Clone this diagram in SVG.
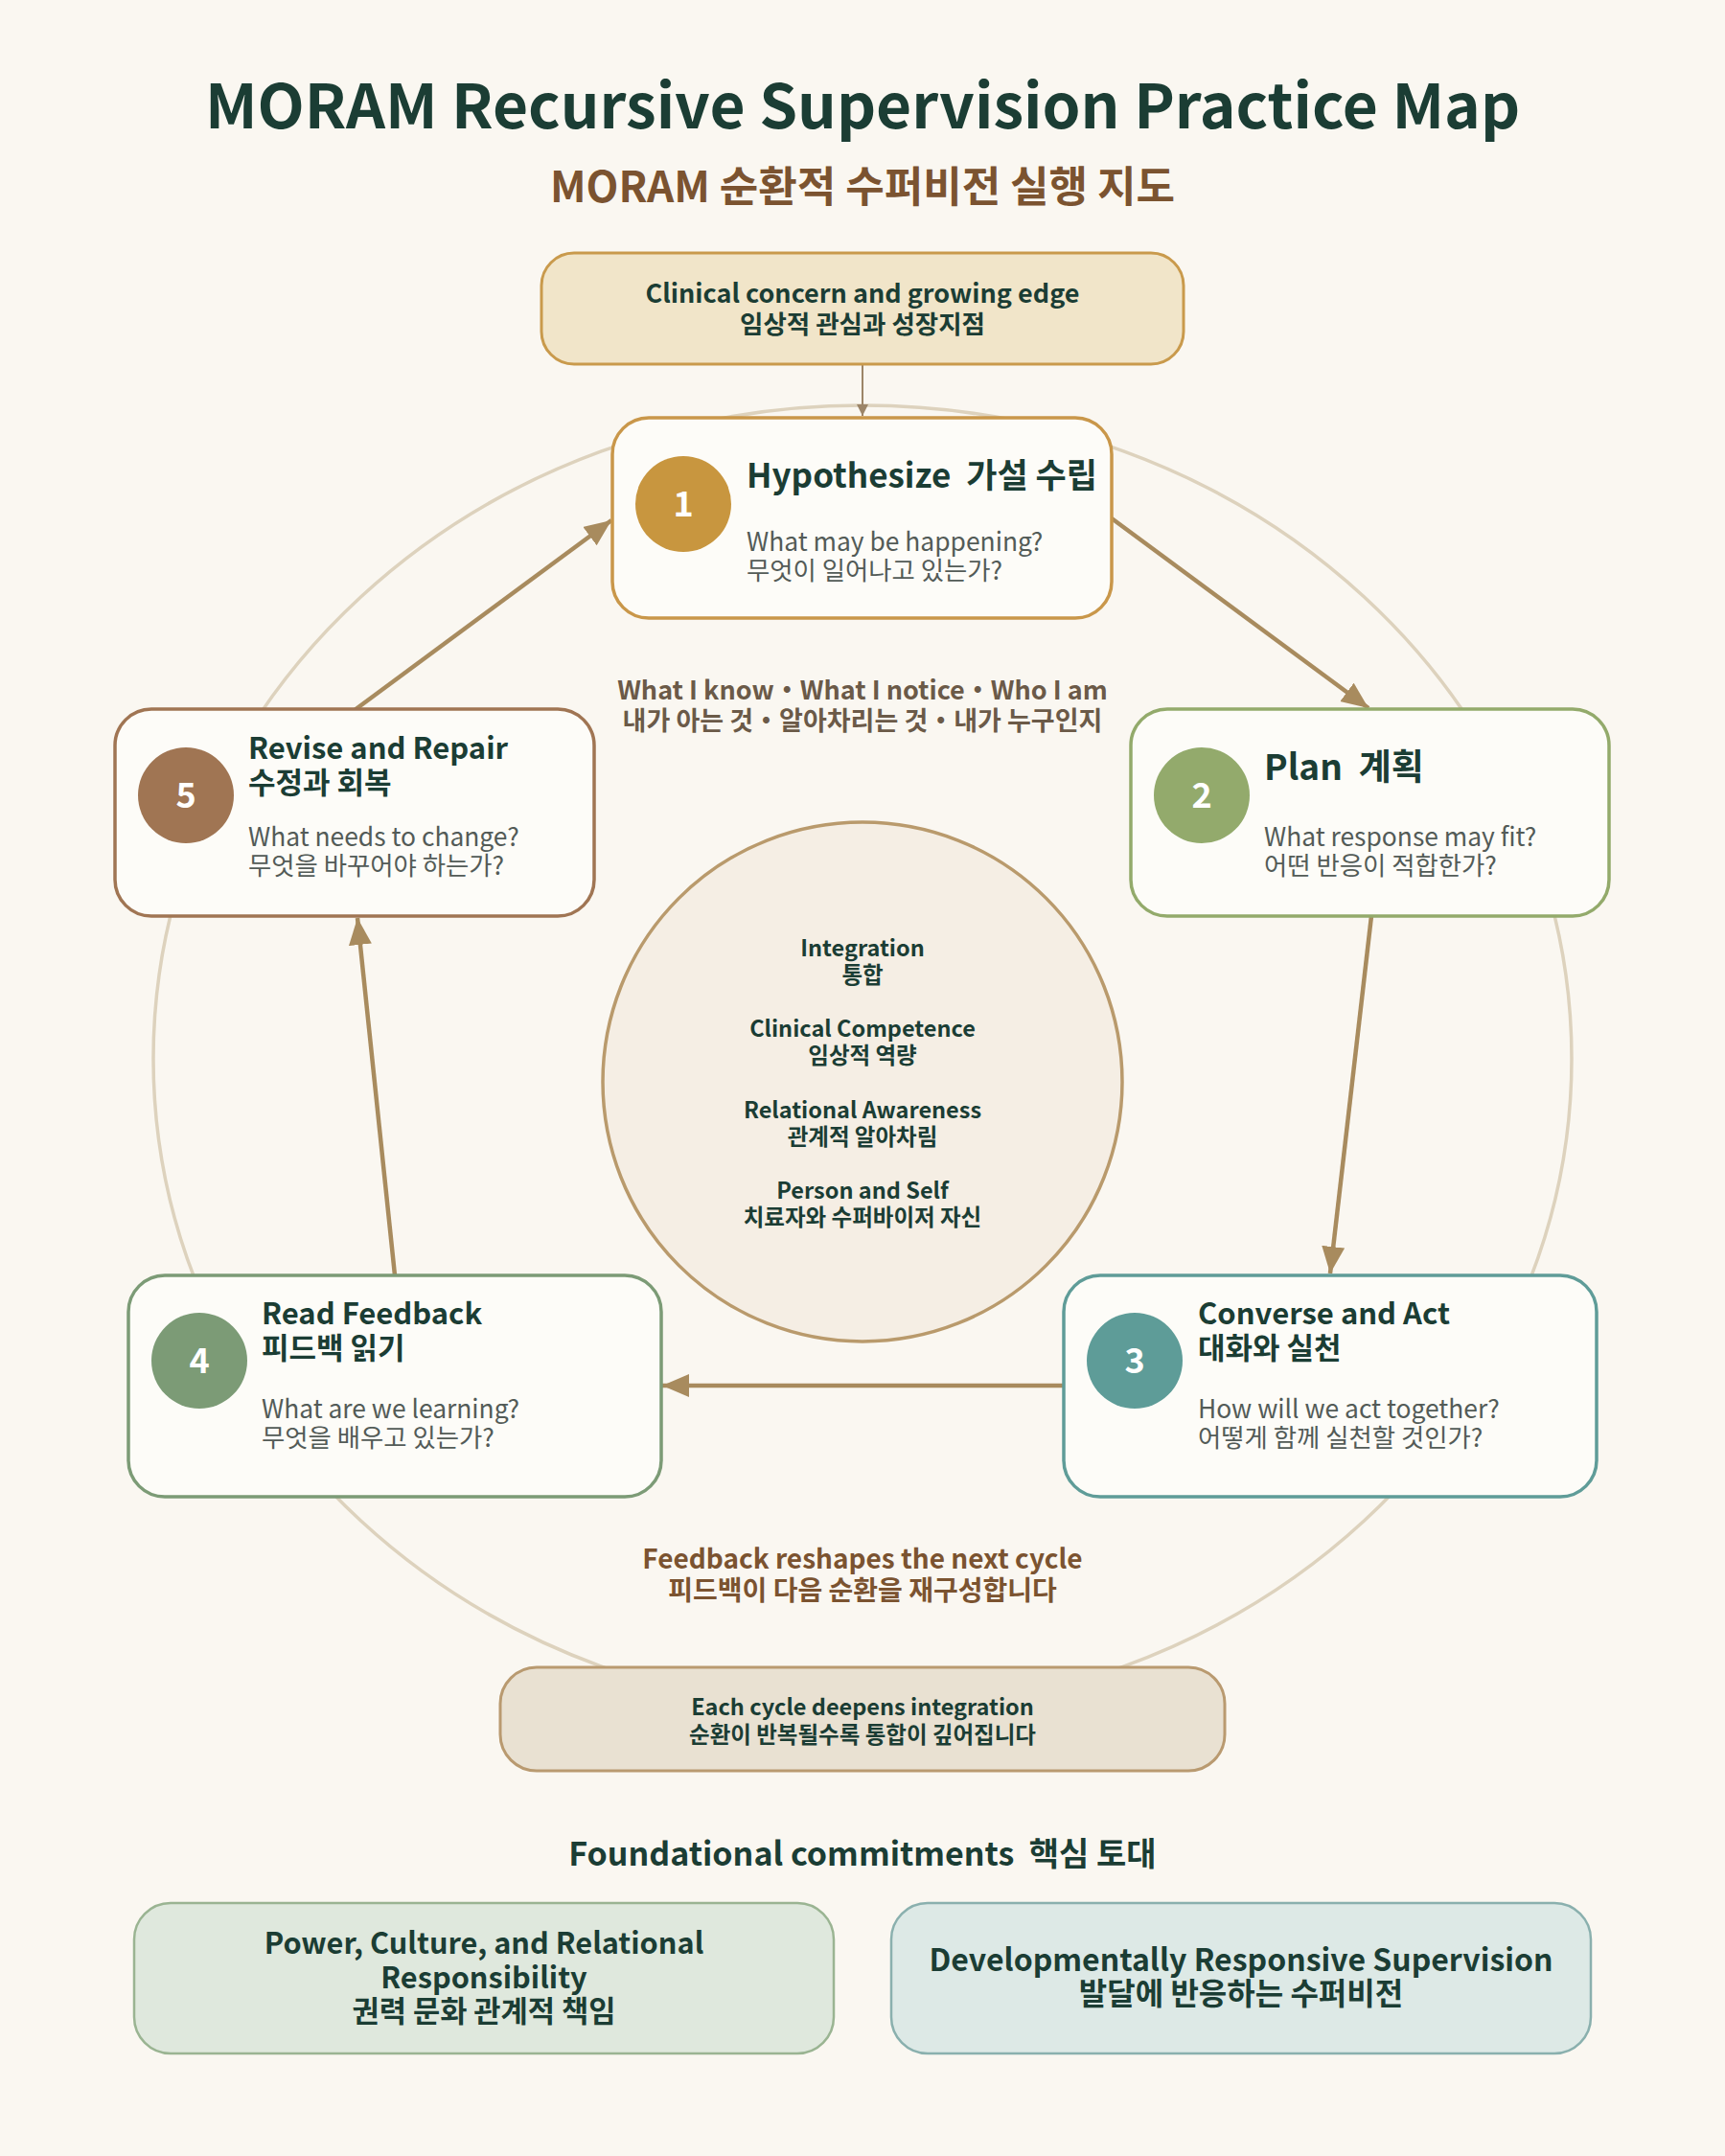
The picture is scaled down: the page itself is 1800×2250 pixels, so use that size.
<svg xmlns="http://www.w3.org/2000/svg" width="1800" height="2250" viewBox="0 0 1800 2250">
<defs>
<style>
text{font-family:"Noto Sans CJK KR","Noto Sans",sans-serif;}
.b{font-weight:700;}
.dk{fill:#1b3d34;}
.sub{fill:#535b57;font-size:26.4px;}
.ttl{font-size:31px;font-weight:700;fill:#1b3d34;}
.num{font-size:36px;font-weight:700;fill:#ffffff;}
.node{fill:#fdfcf8;stroke-width:3.5;}
.ctr{font-size:23.5px;font-weight:700;fill:#1b3d34;}
.arr{stroke:#a88b5e;stroke-width:4.5;fill:none;}
</style>
<marker id="ah" markerUnits="userSpaceOnUse" markerWidth="30" markerHeight="26" refX="28" refY="12" orient="auto">
<path d="M0,0 L28,12 L0,24 Z" fill="#a88b5e"/>
</marker>
<marker id="ahs" markerUnits="userSpaceOnUse" markerWidth="14" markerHeight="14" refX="12" refY="6" orient="auto">
<path d="M0,0 L12,6 L0,12 Z" fill="#9c8568"/>
</marker>
</defs>
<rect x="0" y="0" width="1800" height="2250" fill="#faf7f1"/>

<text x="900" y="134" text-anchor="middle" class="b dk" font-size="64">MORAM Recursive Supervision Practice Map</text>
<text x="900" y="211" text-anchor="middle" class="b" font-size="44" fill="#7b5330">MORAM 순환적 수퍼비전 실행 지도</text>

<ellipse id="ring" cx="900" cy="1105" rx="740" ry="682" fill="none" stroke="#ddd2bd" stroke-width="3.5"/>

<g id="connectors">
<line x1="900" y1="380" x2="900" y2="434" stroke="#9c8568" stroke-width="2" marker-end="url(#ahs)"/>
<line class="arr" x1="1160" y1="541" x2="1428" y2="739" marker-end="url(#ah)"/>
<line class="arr" x1="1431" y1="956" x2="1388" y2="1329" marker-end="url(#ah)"/>
<line class="arr" x1="1110" y1="1446" x2="691" y2="1446" marker-end="url(#ah)"/>
<line class="arr" x1="412" y1="1331" x2="373" y2="958" marker-end="url(#ah)"/>
<line class="arr" x1="370" y1="741" x2="638" y2="543" marker-end="url(#ah)"/>
</g>

<g id="source">
<rect x="565" y="264" width="670" height="116" rx="34" fill="#f1e5c9" stroke="#c99a4c" stroke-width="3"/>
<text x="900" y="316" text-anchor="middle" class="b dk" font-size="27">Clinical concern and growing edge</text>
<text x="900" y="348" text-anchor="middle" class="b dk" font-size="26.5">임상적 관심과 성장지점</text>
</g>

<g id="node1">
<rect class="node" x="639" y="436" width="521" height="209" rx="38" stroke="#c9974a"/>
<circle cx="713" cy="526" r="50" fill="#c8963f"/>
<text x="713" y="539" text-anchor="middle" class="num">1</text>
<text x="779" y="509" class="ttl" style="font-size:35px" xml:space="preserve">Hypothesize  가설 수립</text>
<text x="779" y="575" class="sub">What may be happening?</text>
<text x="779" y="605" class="sub">무엇이 일어나고 있는가?</text>
</g>

<g id="node2">
<rect class="node" x="1180" y="740" width="499" height="216" rx="38" stroke="#93aa6b"/>
<circle cx="1254" cy="830" r="50" fill="#93aa6c"/>
<text x="1254" y="843" text-anchor="middle" class="num">2</text>
<text x="1319" y="814" class="ttl" style="font-size:37px" xml:space="preserve">Plan  계획</text>
<text x="1319" y="883" class="sub">What response may fit?</text>
<text x="1319" y="913" class="sub">어떤 반응이 적합한가?</text>
</g>

<g id="node3">
<rect class="node" x="1110" y="1331" width="556" height="231" rx="38" stroke="#5f9c98"/>
<circle cx="1184" cy="1420" r="50" fill="#5e9c98"/>
<text x="1184" y="1433" text-anchor="middle" class="num">3</text>
<text x="1250" y="1382" class="ttl">Converse and Act</text>
<text x="1250" y="1418" class="ttl">대화와 실천</text>
<text x="1250" y="1480" class="sub">How will we act together?</text>
<text x="1250" y="1510" class="sub">어떻게 함께 실천할 것인가?</text>
</g>

<g id="node4">
<rect class="node" x="134" y="1331" width="556" height="231" rx="38" stroke="#7c9b76"/>
<circle cx="208" cy="1420" r="50" fill="#7c9b76"/>
<text x="208" y="1433" text-anchor="middle" class="num">4</text>
<text x="273" y="1382" class="ttl">Read Feedback</text>
<text x="273" y="1418" class="ttl">피드백 읽기</text>
<text x="273" y="1480" class="sub">What are we learning?</text>
<text x="273" y="1510" class="sub">무엇을 배우고 있는가?</text>
</g>

<g id="node5">
<rect class="node" x="120" y="740" width="500" height="216" rx="38" stroke="#a07553"/>
<circle cx="194" cy="830" r="50" fill="#a07553"/>
<text x="194" y="843" text-anchor="middle" class="num">5</text>
<text x="259" y="792" class="ttl">Revise and Repair</text>
<text x="259" y="828" class="ttl">수정과 회복</text>
<text x="259" y="883" class="sub">What needs to change?</text>
<text x="259" y="913" class="sub">무엇을 바꾸어야 하는가?</text>
</g>

<g id="lens">
<text x="900" y="730" text-anchor="middle" class="b" font-size="27" fill="#6b5a48">What I know・What I notice・Who I am</text>
<text x="900" y="762" text-anchor="middle" class="b" font-size="27" fill="#6b5a48">내가 아는 것・알아차리는 것・내가 누구인지</text>
</g>

<g id="core">
<circle cx="900" cy="1129" r="271" fill="#f5eee4" stroke="#b99a6c" stroke-width="3.5"/>
<text x="900" y="998" text-anchor="middle" class="ctr">Integration</text>
<text x="900" y="1026" text-anchor="middle" class="ctr">통합</text>
<text x="900" y="1082" text-anchor="middle" class="ctr">Clinical Competence</text>
<text x="900" y="1110" text-anchor="middle" class="ctr">임상적 역량</text>
<text x="900" y="1167" text-anchor="middle" class="ctr">Relational Awareness</text>
<text x="900" y="1195" text-anchor="middle" class="ctr">관계적 알아차림</text>
<text x="900" y="1251" text-anchor="middle" class="ctr">Person and Self</text>
<text x="900" y="1279" text-anchor="middle" class="ctr">치료자와 수퍼바이저 자신</text>
</g>

<g id="feedback-note">
<text x="900" y="1637" text-anchor="middle" class="b" font-size="28" fill="#7b5330">Feedback reshapes the next cycle</text>
<text x="900" y="1670" text-anchor="middle" class="b" font-size="28" fill="#7b5330">피드백이 다음 순환을 재구성합니다</text>
</g>

<g id="deepen">
<rect x="522" y="1740" width="756" height="108" rx="38" fill="#e9e1d2" stroke="#b99a70" stroke-width="3"/>
<text x="900" y="1790" text-anchor="middle" class="b dk" font-size="23.5">Each cycle deepens integration</text>
<text x="900" y="1819" text-anchor="middle" class="b dk" font-size="23.5">순환이 반복될수록 통합이 깊어집니다</text>
</g>

<text x="900" y="1947" text-anchor="middle" class="b dk" font-size="34" xml:space="preserve">Foundational commitments  핵심 토대</text>

<g id="commit1">
<rect x="140" y="1986" width="730" height="157" rx="38" fill="#dfe8dd" stroke="#9ab492" stroke-width="2.5"/>
<text x="505" y="2039" text-anchor="middle" class="b dk" font-size="30.7">Power, Culture, and Relational</text>
<text x="505" y="2075" text-anchor="middle" class="b dk" font-size="30.7">Responsibility</text>
<text x="505" y="2110" text-anchor="middle" class="b dk" font-size="30.7">권력 문화 관계적 책임</text>
</g>

<g id="commit2">
<rect x="930" y="1986" width="730" height="157" rx="38" fill="#dde9e6" stroke="#8ab0ae" stroke-width="2.5"/>
<text x="1295" y="2057" text-anchor="middle" class="b dk" font-size="32">Developmentally Responsive Supervision</text>
<text x="1295" y="2092" text-anchor="middle" class="b dk" font-size="32">발달에 반응하는 수퍼비전</text>
</g>
</svg>
